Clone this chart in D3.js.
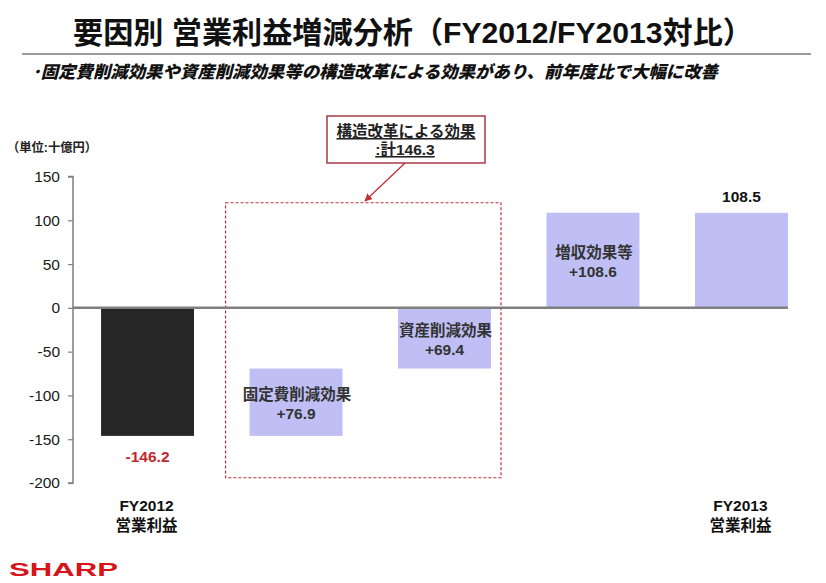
<!DOCTYPE html>
<html><head><meta charset="utf-8">
<script src="https://cdn.jsdelivr.net/npm/d3@7"></script>
<style>
html,body{margin:0;padding:0;background:#fff;}
svg{display:block;}
text{font-family:"Liberation Sans","Noto Sans CJK JP",sans-serif;}
</style></head>
<body>
<svg id="chart" width="826" height="583"></svg>
<script>
// ---- data ----
const categories = ["FY2012", "固定費削減効果", "資産削減効果", "増収効果等", "FY2013"];
const categoryLabels = [["FY2012", "営業利益"], null, null, null, ["FY2013", "営業利益"]];
const kinds = ["total", "delta", "delta", "delta", "total"];
const values = [-146.2, 76.9, 69.4, 108.6, 108.5];
const valueTexts = ["-146.2", "+76.9", "+69.4", "+108.6", "108.5"];
const yTicks = [150, 100, 50, 0, -50, -100, -150, -200];
const titleText = "要因別 営業利益増減分析（FY2012/FY2013対比）";
const subtitleText = "･固定費削減効果や資産削減効果等の構造改革による効果があり、前年度比で大幅に改善";
const unitText = "（単位:十億円）";
const calloutLines = ["構造改革による効果", ":計146.3"];
const boxRange = [120, -194];

// ---- build waterfall ----
let run = 0;
const bars = categories.map((c, i) => {
  let lo, hi;
  if (kinds[i] === "total") { lo = Math.min(0, values[i]); hi = Math.max(0, values[i]); run = values[i]; }
  else { lo = run; hi = run + values[i]; run = hi; }
  return {cat: c, i, lo, hi, kind: kinds[i], text: valueTexts[i]};
});

const svg = d3.select("#chart");

const y = d3.scaleLinear().domain([-200, 150]).range([483, 176.5]);
const x = d3.scaleBand().domain(categories).range([73, 816]).paddingInner(0.374).paddingOuter(0.189);
const bw = x.bandwidth();

// title
svg.append("text").attr("x", 73).attr("y", 43)
  .attr("textLength", 680).attr("lengthAdjust", "spacingAndGlyphs")
  .attr("font-size", 30).attr("font-weight", "bold").attr("fill", "#111")
  .text(titleText);
svg.append("line").attr("x1", 22).attr("x2", 811).attr("y1", 54).attr("y2", 54)
  .attr("stroke", "#7a7a7a").attr("stroke-width", 1.5);
svg.append("text").attr("x", 32).attr("y", 78)
  .attr("textLength", 686).attr("lengthAdjust", "spacingAndGlyphs")
  .attr("font-size", 17).attr("font-weight", "900").attr("font-style", "italic")
  .attr("fill", "#111")
  .text(subtitleText);

// unit
svg.append("text").attr("x", 7).attr("y", 152)
  .attr("textLength", 90).attr("lengthAdjust", "spacingAndGlyphs")
  .attr("font-size", 12.5).attr("font-weight", "bold").attr("fill", "#222")
  .text(unitText);

// axis
const axis = d3.axisLeft(y).tickValues(yTicks).tickSize(5).tickPadding(8).tickFormat(d => String(d));
const ag = svg.append("g").attr("transform", "translate(73,0)").call(axis);
ag.select(".domain").attr("stroke", "#7f7f7f").attr("stroke-width", 1.5).attr("d", `M-5,${y(150)}H0V${y(-200)}H-5`);
ag.selectAll(".tick line").attr("stroke", "#7f7f7f").attr("stroke-width", 1.2);
ag.selectAll(".tick text").attr("font-size", 15.5).attr("fill", "#1a1a1a")
  .attr("font-family", "Liberation Sans, Arial, sans-serif");

// dashed box
const bx0 = x(categories[1]) - 24, bx1 = x(categories[2]) + bw + 10;
svg.append("rect").attr("x", bx0).attr("y", y(boxRange[0]))
  .attr("width", bx1 - bx0).attr("height", y(boxRange[1]) - y(boxRange[0]))
  .attr("fill", "none").attr("stroke", "#b8303c").attr("stroke-width", 1.2)
  .attr("stroke-dasharray", "3,2");

// bars
svg.selectAll("rect.bar").data(bars).join("rect").attr("class", "bar")
  .attr("x", d => x(d.cat)).attr("width", bw)
  .attr("y", d => y(d.hi)).attr("height", d => y(d.lo) - y(d.hi))
  .attr("fill", d => d.i === 0 ? "#262626" : "#bfbff5");

// zero line
svg.append("line").attr("x1", 73).attr("x2", x(categories[4]) + bw)
  .attr("y1", y(0)).attr("y2", y(0)).attr("stroke", "#7f7f7f").attr("stroke-width", 2.5);

// value labels
bars.forEach(d => {
  const cx = x(d.cat) + bw / 2;
  if (d.kind === "delta") {
    const mid = (y(d.lo) + y(d.hi)) / 2 + 2;
    svg.append("text").attr("x", cx + 1).attr("y", mid - 4).attr("text-anchor", "middle")
      .attr("font-size", 15.5).attr("font-weight", "bold").attr("fill", "#333").text(d.cat);
    svg.append("text").attr("x", cx).attr("y", mid + 15).attr("text-anchor", "middle")
      .attr("font-size", 15.5).attr("font-weight", "bold").attr("fill", "#333").text(d.text);
  } else if (d.hi > 0) {
    svg.append("text").attr("x", cx).attr("y", y(d.hi) - 11).attr("text-anchor", "middle")
      .attr("font-size", 15.5).attr("font-weight", "bold").attr("fill", "#111").text(d.text);
  } else {
    svg.append("text").attr("x", cx).attr("y", y(d.lo) + 26).attr("text-anchor", "middle")
      .attr("font-size", 15.5).attr("font-weight", "bold").attr("fill", "#c0282d").text(d.text);
  }
  const cl = categoryLabels[d.i];
  if (cl) {
    svg.append("text").attr("x", cx - 1).attr("y", 511).attr("text-anchor", "middle")
      .attr("font-size", 15.5).attr("font-weight", "bold").attr("fill", "#111").text(cl[0]);
    svg.append("text").attr("x", cx - 1).attr("y", 531).attr("text-anchor", "middle")
      .attr("font-size", 15.5).attr("fill", "#111").attr("font-weight", "bold").text(cl[1]);
  }
});

// callout
svg.append("rect").attr("x", 327).attr("y", 116).attr("width", 158).attr("height", 47)
  .attr("fill", "#fff").attr("stroke", "#a33a46").attr("stroke-width", 1.5);
svg.append("text").attr("x", 406).attr("y", 137).attr("text-anchor", "middle")
  .attr("font-size", 15.5).attr("font-weight", "bold").attr("fill", "#222")
  .attr("text-decoration", "underline").text(calloutLines[0]);
svg.append("text").attr("x", 405).attr("y", 155).attr("text-anchor", "middle")
  .attr("font-size", 15.5).attr("font-weight", "bold").attr("fill", "#222")
  .attr("text-decoration", "underline").text(calloutLines[1]);

// arrow
const defs = svg.append("defs");
defs.append("marker").attr("id", "ah").attr("viewBox", "0 0 10 10").attr("refX", 9).attr("refY", 5)
  .attr("markerWidth", 6).attr("markerHeight", 6).attr("orient", "auto")
  .append("path").attr("d", "M0,0L10,5L0,10z").attr("fill", "#c0303a");
svg.append("line").attr("x1", 405).attr("y1", 163).attr("x2", 365).attr("y2", 201)
  .attr("stroke", "#c0303a").attr("stroke-width", 1.3).attr("marker-end", "url(#ah)");

// logo
svg.append("text").attr("x", 9).attr("y", 576)
  .attr("textLength", 109).attr("lengthAdjust", "spacingAndGlyphs")
  .attr("font-size", 19).attr("font-weight", "900").attr("fill", "#d7141a")
  .attr("font-family", "DejaVu Sans, sans-serif")
  .text("SHARP");
</script>
</body></html>
